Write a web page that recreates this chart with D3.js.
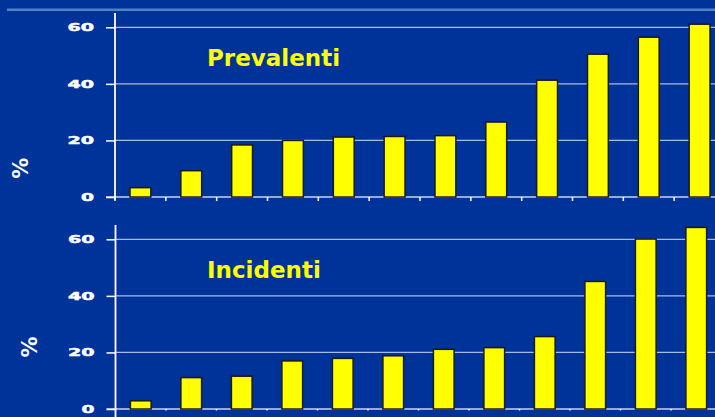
<html>
<head>
<script src="https://d3js.org/d3.v7.min.js"></script>
<style>
  body { margin: 0; background: #003399; overflow: hidden; }
  text { font-family: "DejaVu Sans", Verdana, sans-serif; font-weight: bold; }
</style>
</head>
<body>
<div id="chart"></div>
<script>
// data (% per group)
var categories = ["1","2","3","4","5","6","7","8","9","10","11","12"];
var prevalenti = [3.3, 9.3, 18.4, 20.0, 21.2, 21.4, 21.7, 26.5, 41.3, 50.5, 56.5, 61.1];
var incidenti  = [2.9, 11.1, 11.6, 17.0, 17.9, 18.8, 21.1, 21.7, 25.6, 45.1, 60.1, 64.2];
var yTicks = [0, 20, 40, 60];
var panelTitles = ["Prevalenti", "Incidenti"];

var w = 715, h = 417;
var svg = d3.select("#chart").append("svg").attr("width", w).attr("height", h);

svg.append("rect").attr("width", w).attr("height", h).attr("fill", "#003399");

// light rule at the very top
svg.append("line").attr("x1", 7).attr("x2", w).attr("y1", 9.7).attr("y2", 9.7)
  .attr("stroke", "#4f84c4").attr("stroke-width", 2.6);

var panels = [
  {values: prevalenti, title: panelTitles[0], y0: 197, y60: 27.3, axTop: 13, axBot: 200,
   xr: [115, 725], titleY: 66, pctX: 21.3, pctY: 168.3, tickLen: 4},
  {values: incidenti, title: panelTitles[1], y0: 409, y60: 239.3, axTop: 225, axBot: 417,
   xr: [115.5, 721.5], titleY: 278.3, pctX: 29.5, pctY: 347, tickLen: 1.5}
];

panels.forEach(function(p) {
  var y = d3.scaleLinear().domain([0, 60]).range([p.y0, p.y60]);
  var xStep = d3.scaleBand().domain(categories).range(p.xr).padding(0);
  var xBar = d3.scaleBand().domain(categories).range(p.xr).paddingInner(0.59).paddingOuter(0.295);

  var g = svg.append("g");

  // gridlines
  g.selectAll(".grid").data(yTicks.filter(function(d){ return d > 0; })).enter()
    .append("line").attr("x1", p.xr[0]).attr("x2", w)
    .attr("y1", function(d){ return y(d); }).attr("y2", function(d){ return y(d); })
    .attr("stroke", "#a9bbe3").attr("stroke-width", 1.2);

  // baseline
  g.append("line").attr("x1", p.xr[0] - 9).attr("x2", w)
    .attr("y1", y(0)).attr("y2", y(0))
    .attr("stroke", "#c8d3ee").attr("stroke-width", 1.5);

  // x ticks at the category boundaries
  g.selectAll(".xt").data(categories).enter().append("line")
    .attr("x1", function(d){ return xStep(d); }).attr("x2", function(d){ return xStep(d); })
    .attr("y1", y(0)).attr("y2", y(0) + p.tickLen)
    .attr("stroke", "#ffffff").attr("stroke-width", 1.5);

  // bars
  g.selectAll(".bar").data(p.values).enter().append("rect")
    .attr("x", function(d, i){ return xBar(categories[i]); })
    .attr("width", xBar.bandwidth())
    .attr("y", function(d){ return y(d); })
    .attr("height", function(d){ return y(0) - y(d); })
    .attr("fill", "#ffff00").attr("stroke", "#1a1a1a").attr("stroke-width", 1.5);

  // y axis
  var yAxis = d3.axisLeft(y).tickValues(yTicks).tickSize(9).tickSizeOuter(0).tickPadding(12);
  var ax = g.append("g").attr("transform", "translate(" + p.xr[0] + ",0)").call(yAxis);
  ax.select(".domain").remove();
  ax.selectAll(".tick line").attr("stroke", "#ffffff").attr("stroke-width", 1.5);
  ax.selectAll(".tick text").attr("fill", "#ffffff").attr("font-size", 11)
    .attr("stroke", "#ffffff").attr("stroke-width", 0.5)
    .attr("font-family", "DejaVu Sans").attr("font-weight", "bold")
    .attr("lengthAdjust", "spacingAndGlyphs")
    .attr("textLength", function(d){ return String(d).length * 13.6 - 0.6; });

  g.append("line").attr("x1", p.xr[0]).attr("x2", p.xr[0])
    .attr("y1", p.axTop).attr("y2", p.axBot)
    .attr("stroke", "#ffffff").attr("stroke-width", 1.8);

  // panel title
  g.append("text").attr("x", 207).attr("y", p.titleY)
    .attr("fill", "#ffff00").attr("font-size", 23).text(p.title);

  // axis label
  g.append("text").attr("transform", "translate(" + p.pctX + "," + p.pctY + ") rotate(-90)")
    .attr("text-anchor", "middle").attr("dominant-baseline", "central")
    .attr("fill", "#ffffff").attr("font-size", 21).text("%");
});
</script>
</body>
</html>
